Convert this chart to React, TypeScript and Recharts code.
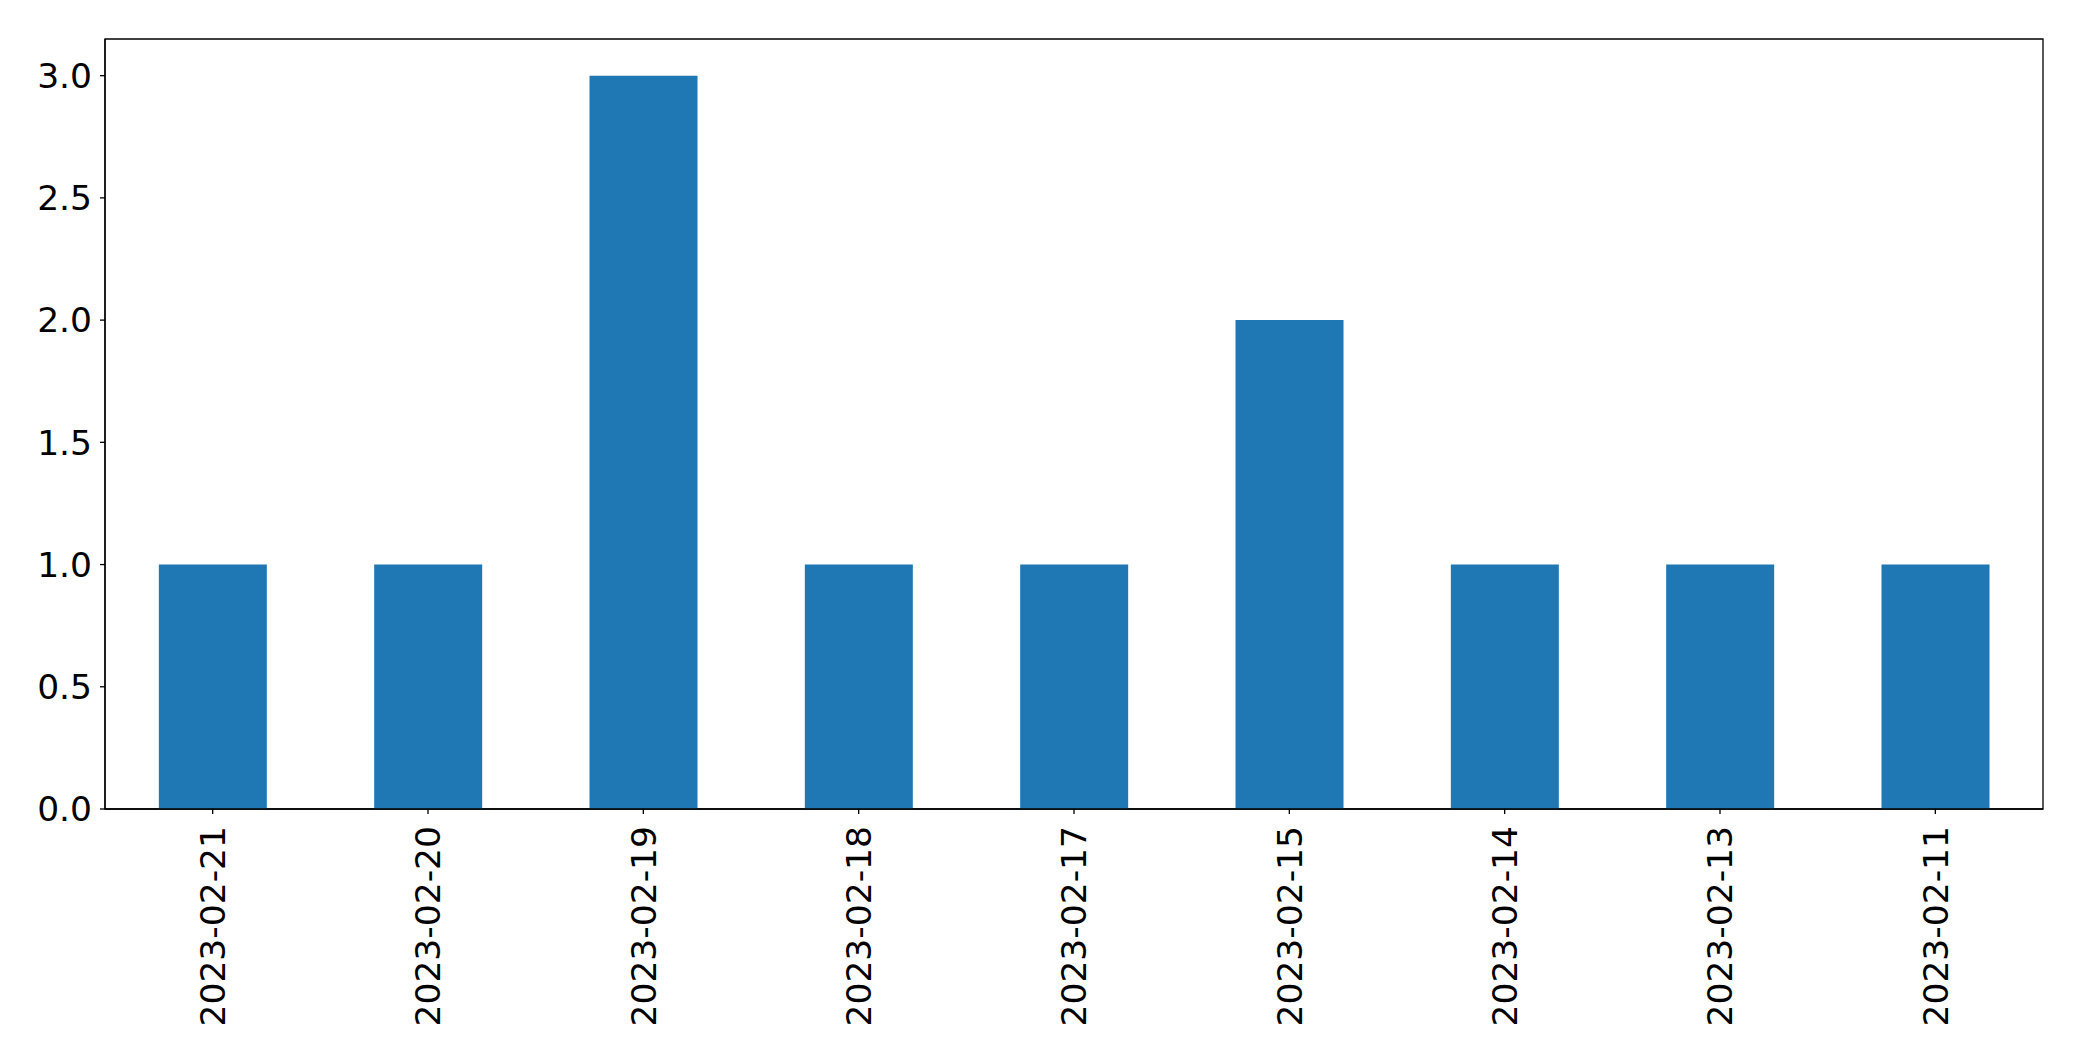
import React from "react";
import { BarChart, Bar, XAxis, YAxis, ReferenceArea } from "recharts";

const categories = ["2023-02-21", "2023-02-20", "2023-02-19", "2023-02-18", "2023-02-17", "2023-02-15", "2023-02-14", "2023-02-13", "2023-02-11"];
const counts = [1, 1, 3, 1, 1, 2, 1, 1, 1];
const yTicks = [0, 0.5, 1.0, 1.5, 2.0, 2.5, 3.0];

const data = categories.map((c, i) => ({ date: c, count: counts[i] }));

const FONT = "DejaVu Sans";
const FS = 34.5;

const XTick = (props: any) => {
  const { x, y, payload } = props;
  return (
    <g transform={`translate(${x},${y})`}>
      <text
        transform="rotate(-90)"
        x={-5}
        y={0}
        dy="0.36em"
        textAnchor="end"
        fontFamily={FONT}
        fontSize={FS}
        fill="#000"
      >
        {payload.value}
      </text>
    </g>
  );
};

export default function App() {
  return (
    <div style={{ position: "absolute", left: 0, top: 0, width: 2082, height: 1061, background: "#fff" }}>
      <BarChart
        width={2082}
        height={1061}
        data={data}
        margin={{ top: 39, right: 39, bottom: 0, left: 0 }}
        barCategoryGap="25%"
      >
        <XAxis
          dataKey="date"
          height={252}
          interval={0}
          tick={<XTick />}
          tickSize={5}
          tickMargin={7}
          axisLine={{ stroke: "#000", strokeWidth: 1.3 }}
          tickLine={{ stroke: "#000", strokeWidth: 1.3 }}
        />
        <YAxis
          width={105}
          domain={[0, 3.15]}
          ticks={yTicks}
          interval={0}
          tickFormatter={(v: number) => v.toFixed(1)}
          tickSize={5}
          tickMargin={8}
          tick={{ fontFamily: FONT, fontSize: FS, fill: "#000" }}
          axisLine={{ stroke: "#000", strokeWidth: 1.3 }}
          tickLine={{ stroke: "#000", strokeWidth: 1.3 }}
        />
        <Bar dataKey="count" fill="#1f77b4" isAnimationActive={false} />
        <ReferenceArea y1={0} y2={3.15} fill="none" fillOpacity={0} stroke="#000" strokeWidth={1.3} ifOverflow="visible" />
      </BarChart>
    </div>
  );
}
